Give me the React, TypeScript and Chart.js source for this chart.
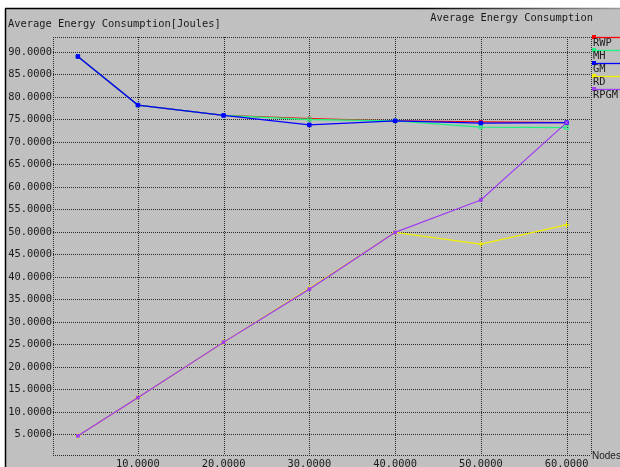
import React, { useEffect, useRef } from "react";
import { Chart, registerables } from "chart.js";

Chart.register(...registerables);

// Number of nodes (x) and energy consumption in joules (y) per protocol
const NODES = [3, 10, 20, 30, 40, 50, 60];
const RWP = [89.0, 78.2, 75.9, 75.2, 74.7, 74.45, 74.3];
const MH = [89.0, 78.2, 75.9, 75.0, 74.7, 73.3, 73.2];
const GM = [89.0, 78.2, 75.9, 73.8, 74.7, 74.2, 74.3];
const RD = [4.7, 13.2, 25.5, 37.5, 49.9, 47.3, 51.6];
const RPGM = [4.7, 13.2, 25.5, 37.3, 49.9, 57.1, 74.3];

const X_TICKS = [10, 20, 30, 40, 50, 60];
const Y_TICKS = [5, 10, 15, 20, 25, 30, 35, 40, 45, 50, 55, 60, 65, 70, 75, 80, 85, 90];

const SERIES_NAMES = ["RWP", "MH", "GM", "RD", "RPGM"];
const SERIES_COLORS = ["#ff0000", "#20f080", "#0000ff", "#f0f000", "#a040f0"];

const MONO = "10.4px 'DejaVu Sans Mono', monospace";
const TEXT = "#1a1a1a";

const toPoints = (ys: number[]) => NODES.map((x, i) => ({ x, y: ys[i] }));

const framePlugin = {
  id: "xgraphFrame",
  beforeDraw(chart: any) {
    const { ctx, width, height } = chart;
    ctx.save();
    ctx.fillStyle = "#ffffff";
    ctx.fillRect(0, 0, width, height);
    ctx.fillStyle = "#c0c0c0";
    ctx.fillRect(6, 9, width - 6, height - 9);
    // window frame: left and top edges
    ctx.strokeStyle = "#000000";
    ctx.lineWidth = 1.5;
    ctx.beginPath();
    ctx.moveTo(5.5, height);
    ctx.lineTo(5.5, 8.5);
    ctx.stroke();
    const g = ctx.createLinearGradient(420, 0, width, 0);
    g.addColorStop(0, "#000000");
    g.addColorStop(1, "#9a9a9a");
    ctx.strokeStyle = g;
    ctx.beginPath();
    ctx.moveTo(5, 8.5);
    ctx.lineTo(width, 8.5);
    ctx.stroke();
    ctx.restore();
  },
  beforeDatasetsDraw(chart: any) {
    const { ctx, chartArea, scales } = chart;
    const { left, right, top, bottom } = chartArea;
    ctx.save();
    ctx.strokeStyle = "#2a2a2a";
    ctx.lineWidth = 1;
    ctx.setLineDash([1, 1]);
    const px = (v: number) => Math.round(v) + 0.5;
    ctx.beginPath();
    Y_TICKS.forEach((v) => {
      const y = px(scales.y.getPixelForValue(v));
      ctx.moveTo(left, y);
      ctx.lineTo(right, y);
    });
    X_TICKS.forEach((v) => {
      const x = px(scales.x.getPixelForValue(v));
      ctx.moveTo(x, top);
      ctx.lineTo(x, bottom);
    });
    ctx.moveTo(left, px(top));
    ctx.lineTo(right, px(top));
    ctx.moveTo(left, px(bottom));
    ctx.lineTo(right, px(bottom));
    ctx.moveTo(px(left), top);
    ctx.lineTo(px(left), bottom);
    ctx.moveTo(px(right), top);
    ctx.lineTo(px(right), bottom);
    ctx.stroke();
    ctx.restore();
  },
  afterDraw(chart: any) {
    const { ctx, chartArea, width } = chart;
    ctx.save();
    ctx.fillStyle = TEXT;
    ctx.font = MONO;
    ctx.textBaseline = "middle";
    ctx.textAlign = "left";
    ctx.fillText("Average Energy Consumption[Joules]", 8, 24);
    ctx.textAlign = "right";
    ctx.fillText("Average Energy Consumption", 593, 18);

    // legend column to the right of the plot
    const lx = chartArea.right + 2;
    ctx.textAlign = "left";
    SERIES_NAMES.forEach((name, i) => {
      const ly = 37 + i * 13;
      ctx.strokeStyle = SERIES_COLORS[i];
      ctx.lineWidth = 1.3;
      ctx.beginPath();
      ctx.moveTo(lx, ly + 0.5);
      ctx.lineTo(width, ly + 0.5);
      ctx.stroke();
      ctx.fillStyle = SERIES_COLORS[i];
      ctx.fillRect(lx - 1, ly - 2, 4, 4);
      ctx.fillStyle = TEXT;
      ctx.font = MONO;
      ctx.fillText(name, lx, ly + 6);
    });

    ctx.font = "10px 'Liberation Sans', Arial, sans-serif";
    ctx.fillText("Nodes", chartArea.right + 1, chartArea.bottom + 1);
    ctx.restore();
  },
};

export default function App() {
  const canvasRef = useRef<HTMLCanvasElement | null>(null);

  useEffect(() => {
    if (!canvasRef.current) return;
    const styles = [
      { pointStyle: "rect", radius: 2, fill: SERIES_COLORS[0] },
      { pointStyle: "rect", radius: 2.5, fill: "rgba(0,0,0,0)" },
      { pointStyle: "rect", radius: 2.5, fill: SERIES_COLORS[2] },
      { pointStyle: "cross", radius: 3, fill: SERIES_COLORS[3] },
      { pointStyle: "rect", radius: 2, fill: SERIES_COLORS[4] },
    ];
    const values = [RWP, MH, GM, RD, RPGM];
    const chart = new Chart(canvasRef.current, {
      type: "line",
      data: {
        datasets: values.map((ys, i) => ({
          label: SERIES_NAMES[i],
          data: toPoints(ys),
          borderColor: SERIES_COLORS[i],
          backgroundColor: styles[i].fill,
          pointBorderColor: SERIES_COLORS[i],
          pointBackgroundColor: styles[i].fill,
          pointStyle: styles[i].pointStyle as any,
          pointRadius: styles[i].radius,
          pointBorderWidth: 1,
          borderWidth: 1.3,
          tension: 0,
          fill: false,
          order: values.length - i,
        })),
      },
      plugins: [framePlugin],
      options: {
        responsive: false,
        animation: false,
        layout: { padding: { top: 37, right: 29, left: 0, bottom: 0 } },
        plugins: { legend: { display: false }, tooltip: { enabled: false } },
        scales: {
          x: {
            type: "linear",
            min: 0.1,
            max: 62.85,
            grid: { display: false, drawTicks: false },
            border: { display: false },
            ticks: {
              font: { family: "'DejaVu Sans Mono', monospace", size: 10.4 },
              color: TEXT,
              padding: 3,
              maxRotation: 0,
              autoSkip: false,
              callback: (v: any) => Number(v).toFixed(4),
            },
            afterBuildTicks: (s: any) => {
              s.ticks = X_TICKS.map((value) => ({ value }));
            },
            afterFit: (s: any) => {
              s.height = 12;
            },
          },
          y: {
            type: "linear",
            min: 0.44,
            max: 93.33,
            grid: { display: false, drawTicks: false },
            border: { display: false },
            ticks: {
              font: { family: "'DejaVu Sans Mono', monospace", size: 10.4 },
              color: TEXT,
              padding: 1,
              autoSkip: false,
              callback: (v: any) => Number(v).toFixed(4),
            },
            afterBuildTicks: (s: any) => {
              s.ticks = Y_TICKS.map((value) => ({ value }));
            },
            afterFit: (s: any) => {
              s.width = 53;
            },
          },
        },
      },
    });
    return () => chart.destroy();
  }, []);

  return (
    <div style={{ position: "absolute", left: 0, top: 0, width: 620, height: 467, background: "#ffffff" }}>
      <canvas ref={canvasRef} width={620} height={467} style={{ display: "block" }} />
    </div>
  );
}
